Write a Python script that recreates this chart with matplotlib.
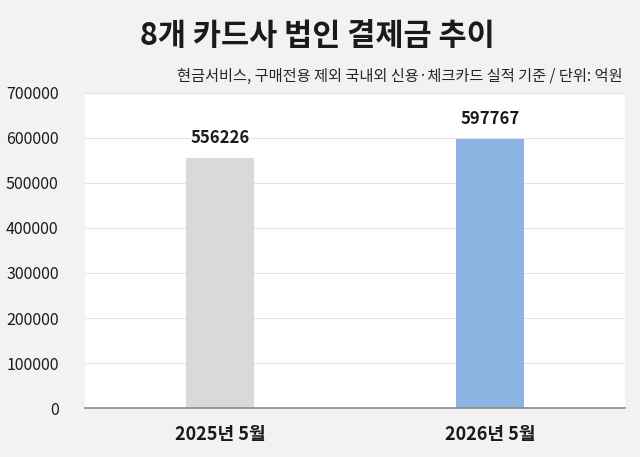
import matplotlib
matplotlib.use("Agg")
import matplotlib.pyplot as plt

plt.rcParams['font.family'] = ['Noto Sans CJK KR', 'DejaVu Sans']

# data ---------------------------------------------
categories = ['2025년 5월', '2026년 5월']
values = [556226, 597767]
bar_colors = ['#d9d9d9', '#8db3e2']
yticks = [0, 100000, 200000, 300000, 400000, 500000, 600000, 700000]

title = '8개 카드사 법인 결제금 추이'
subtitle = '현금서비스, 구매전용 제외 국내외 신용·체크카드 실적 기준 / 단위: 억원'

# figure --------------------------------------------
fig = plt.figure(figsize=(6.4, 4.57), dpi=100, facecolor='#f2f2f2')
ax = fig.add_axes([0.133, 0.107, 0.844, 0.690])
ax.set_facecolor('white')

x = range(len(categories))
bars = ax.bar(x, values, width=0.25, color=bar_colors, zorder=3)

for i in range(len(values)):
	ax.text(i, values[i] + 24000, str(values[i]), ha='center', va='bottom',
			fontsize=12, fontweight='bold', color='#1a1a1a')

ax.set_xlim(-0.5, 1.5)
ax.set_ylim(0, 700000)
ax.set_yticks(yticks)
ax.set_yticklabels([str(v) for v in yticks])
ax.set_xticks(list(x))
ax.set_xticklabels(categories, fontsize=13, fontweight='bold', color='#1a1a1a')

ax.grid(axis='y', color='#e3e3e3', linewidth=0.8, zorder=0)
for s in ['top', 'right', 'left']:
	ax.spines[s].set_visible(False)
ax.spines['bottom'].set_color('#8c8c8c')
ax.spines['bottom'].set_linewidth(1.2)
ax.spines['bottom'].set_zorder(4)

ax.tick_params(axis='y', length=0, labelsize=11.5, labelcolor='#1a1a1a', pad=19)
ax.tick_params(axis='x', length=0, pad=12)

fig.text(0.496, 0.921, title, ha='center', va='center', fontsize=22,
		 fontweight='bold', color='#1a1a1a')
fig.text(0.972, 0.832, subtitle, ha='right', va='center', fontsize=11,
		 color='#262626')

fig.savefig('out.png', dpi=100, facecolor=fig.get_facecolor())
